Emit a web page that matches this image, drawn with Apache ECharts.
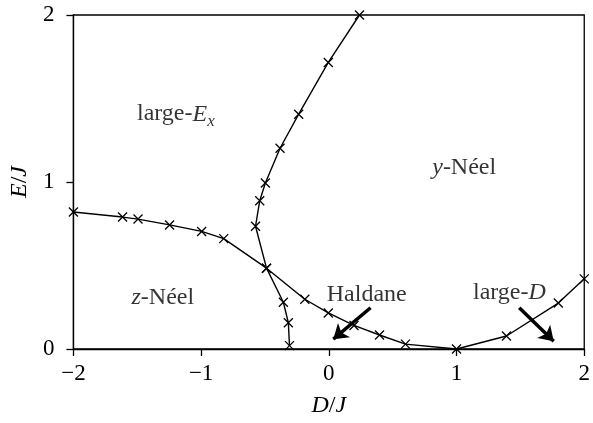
<!DOCTYPE html>
<html>
<head>
<meta charset="utf-8">
<script src="https://cdn.jsdelivr.net/npm/echarts@6/dist/echarts.min.js"></script>
<style>
  html, body { margin: 0; padding: 0; background: #fff; }
  #canvas { width: 593px; height: 423px; }
</style>
</head>
<body>
<div id="canvas"></div>
<script>
// boundary between z-Neel / large-Ex / Haldane / large-D
var curveA = [
    [-2.0, 0.82], [-1.615, 0.79], [-1.494, 0.778], [-1.247, 0.743],
    [-0.996, 0.704], [-0.823, 0.661], [-0.488, 0.484], [-0.188, 0.298],
    [-0.004, 0.216], [0.197, 0.141], [0.397, 0.084], [0.600, 0.029],
    [1.0, 0.0], [1.391, 0.078], [1.797, 0.275], [2.0, 0.42]
];

// near-vertical boundary (z-Neel / y-Neel)
var curveB = [
    [-0.308, 0.02], [-0.317, 0.157], [-0.356, 0.28], [-0.488, 0.484],
    [-0.574, 0.735], [-0.541, 0.888], [-0.497, 0.994], [-0.382, 1.202],
    [-0.236, 1.406], [-0.004, 1.716], [0.24, 2.0]
];

var xTicks = [-2, -1, 0, 1, 2];
var yTicks = [0, 1, 2];

// phase labels: [x, y, rich text]
var phaseLabels = [
    [-1.198, 1.406, 'large-{i|E}{s|x}'],
    [1.06, 1.088, '{i|y}-Néel'],
    [-1.30, 0.306, '{i|z}-Néel'],
    [0.297, 0.324, 'Haldane'],
    [1.414, 0.335, 'large-{i|D}']
];

// arrows: [x0, y0, x1, y1]
var arrows = [
    [0.327, 0.247, 0.035, 0.059],
    [1.491, 0.247, 1.761, 0.047]
];

var serif = 'Liberation Serif';
var cross = 'path://M0,0L10,10M10,0L0,10';

function fmtTick(v) {
    return String(v).replace('-', '\u2212');
}

function drawChart() {
    var myChart = echarts.init(document.getElementById('canvas'));

    var rich = {
        i: { fontFamily: serif, fontStyle: 'italic', fontSize: 24, color: '#000' },
        s: { fontFamily: serif, fontStyle: 'italic', fontSize: 17, color: '#000', verticalAlign: 'bottom', padding: [14, 0, 0, 0] }
    };

    var lineSeries = function (data) {
        return {
            type: 'line',
            data: data,
            symbol: cross,
            symbolSize: 9,
            showAllSymbol: true,
            clip: true,
            lineStyle: { color: '#000', width: 1.4 },
            itemStyle: { color: 'none', borderColor: '#000', borderWidth: 1.3 },
            emphasis: { disabled: true },
            animation: false,
            z: 3
        };
    };

    var option = {
        animation: false,
        grid: {
            left: 70, right: 4, top: 15, bottom: 68,
            show: true, borderColor: '#000', borderWidth: 1.3, backgroundColor: 'transparent'
        },
        xAxis: {
            type: 'value', min: -2, max: 2, interval: 1,
            name: '{i|D}/{i|J}',
            nameLocation: 'middle', nameGap: 45,
            nameTextStyle: { fontFamily: serif, fontSize: 24, color: '#000', rich: rich },
            axisLine: { show: true, onZero: false, lineStyle: { color: '#000', width: 1.3 } },
            axisTick: { show: true, length: 7, lineStyle: { color: '#000', width: 1.3 } },
            axisLabel: { fontFamily: serif, fontSize: 23, color: '#000', margin: 13, formatter: fmtTick },
            splitLine: { show: false }
        },
        yAxis: {
            type: 'value', min: 0, max: 2, interval: 1,
            name: '{i|E}/{i|J}',
            nameLocation: 'middle', nameGap: 37, nameRotate: 90,
            nameTextStyle: { fontFamily: serif, fontSize: 24, color: '#000', rich: rich },
            axisLine: { show: true, onZero: false, lineStyle: { color: '#000', width: 1.3 } },
            axisTick: { show: true, length: 7, lineStyle: { color: '#000', width: 1.3 } },
            axisLabel: { fontFamily: serif, fontSize: 23, color: '#000', margin: 19, formatter: fmtTick },
            splitLine: { show: false }
        },
        series: [
            lineSeries(curveA),
            lineSeries(curveB),
            {
                type: 'scatter',
                data: phaseLabels.map(function (p) { return { value: [p[0], p[1]], txt: p[2] }; }),
                symbolSize: 0,
                silent: true,
                label: {
                    show: true, position: 'inside',
                    fontFamily: serif, fontSize: 24, color: '#000',
                    formatter: function (p) { return p.data.txt; },
                    rich: rich
                },
                z: 4
            },
            {
                type: 'lines',
                coordinateSystem: 'cartesian2d',
                data: arrows.map(function (a) { return { coords: [[a[0], a[1]], [a[2], a[3]]] }; }),
                symbol: ['none', 'arrow'],
                symbolSize: 14,
                silent: true,
                lineStyle: { color: '#000', width: 3.5, opacity: 1 },
                z: 5
            }
        ]
    };

    myChart.setOption(option);
}

drawChart();
</script>
</body>
</html>
